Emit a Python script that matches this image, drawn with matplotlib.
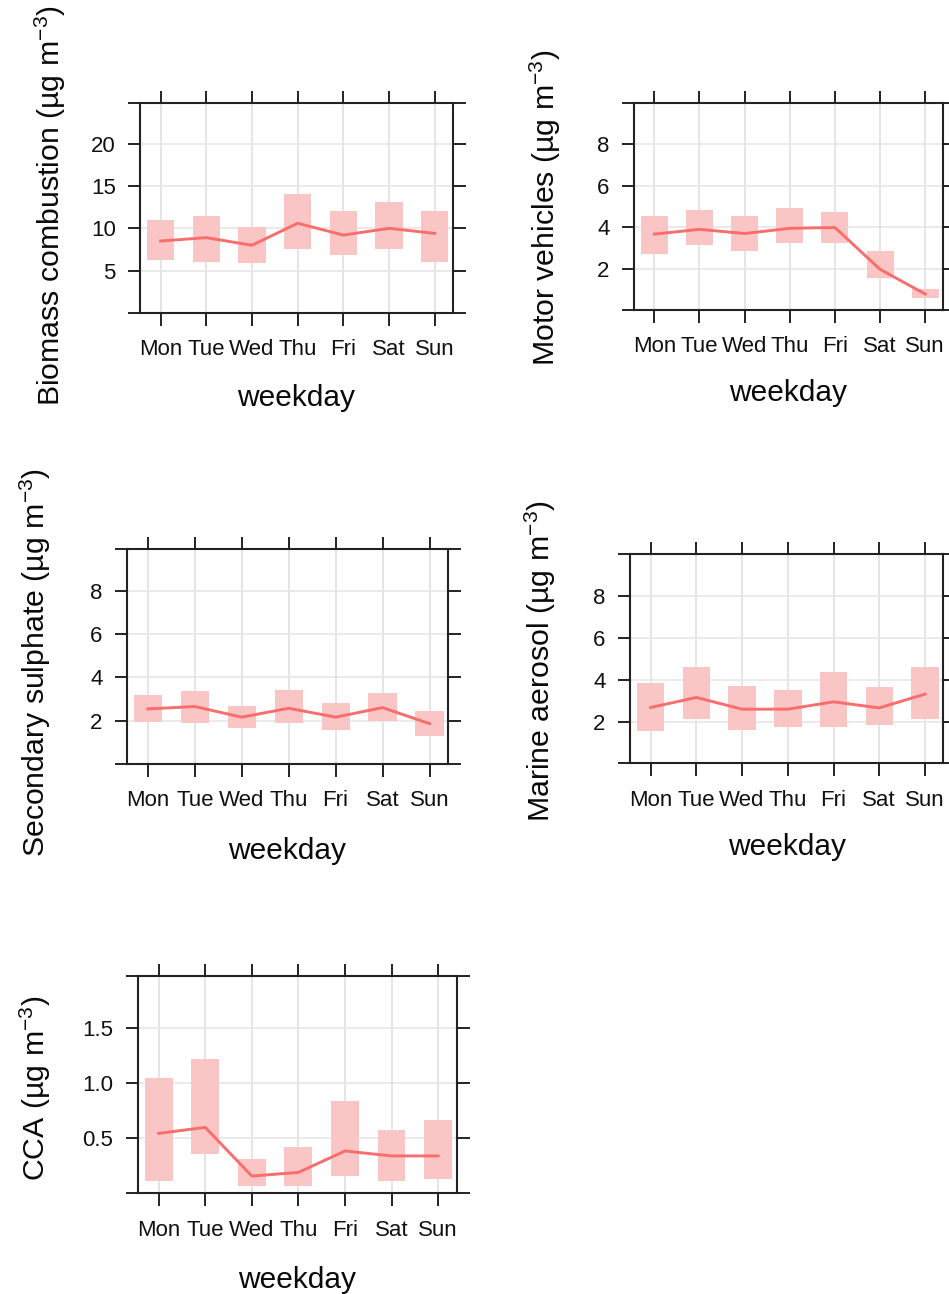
import numpy as np
import matplotlib
matplotlib.use("Agg")
import matplotlib.pyplot as plt

plt.rcParams['font.family'] = ['Liberation Sans', 'DejaVu Sans']
plt.rcParams['mathtext.default'] = 'regular'

days = ['Mon', 'Tue', 'Wed', 'Thu', 'Fri', 'Sat', 'Sun']

# mean and interval (lower / upper) per weekday
biomass_mean = [8.5, 8.9, 8.0, 10.6, 9.2, 10.0, 9.4]
biomass_low = [6.3, 6.0, 5.9, 7.6, 6.8, 7.6, 6.0]
biomass_high = [11.0, 11.4, 10.1, 14.0, 12.1, 13.1, 12.1]

motor_mean = [3.66, 3.89, 3.69, 3.94, 3.98, 1.96, 0.77]
motor_low = [2.68, 3.13, 2.84, 3.21, 3.21, 1.54, 0.59]
motor_high = [4.53, 4.82, 4.53, 4.90, 4.74, 2.86, 1.00]

sulph_mean = [2.54, 2.65, 2.16, 2.57, 2.16, 2.60, 1.86]
sulph_low = [1.95, 1.87, 1.66, 1.87, 1.58, 2.00, 1.28]
sulph_high = [3.18, 3.35, 2.66, 3.41, 2.82, 3.27, 2.45]

marine_mean = [2.67, 3.15, 2.59, 2.59, 2.94, 2.65, 3.31]
marine_low = [1.55, 2.14, 1.61, 1.76, 1.76, 1.84, 2.14]
marine_high = [3.85, 4.61, 3.71, 3.49, 4.38, 3.63, 4.61]

cca_mean = [0.545, 0.60, 0.157, 0.19, 0.385, 0.34, 0.34]
cca_low = [0.115, 0.355, 0.066, 0.066, 0.157, 0.115, 0.127]
cca_high = [1.045, 1.22, 0.315, 0.418, 0.836, 0.58, 0.67]

W, H = 949, 1294
LINE = '#F96D6D'
BOX = '#F9C5C5'
FRAME = '#222222'

fig = plt.figure(figsize=(W / 100, H / 100), dpi=100)


def px(x, y):
    return x / W, 1 - y / H


def panel(box, label, mean, low, high, ylim, yticks, ylab_xy, xlab_xy, fmt='{:g}'):
    l, t, r, b = box
    ax = fig.add_axes([l / W, 1 - b / H, (r - l) / W, (b - t) / H])
    x = np.arange(1, len(days) + 1)
    ax.set_xlim(0.55, 7.4)
    ax.set_ylim(*ylim)

    for xi in x:
        ax.axvline(xi, color='#e3e3e3', lw=1.3, zorder=0)
    for yt in yticks:
        ax.axhline(yt, color='#e8e8e8', lw=1.3, zorder=0)

    low = np.array(low)
    high = np.array(high)
    ax.bar(x, high - low, bottom=low, width=0.6, color=BOX, lw=0, zorder=1)
    ax.plot(x, mean, color=LINE, lw=2.1, zorder=2)

    ax.set_xticks(x)
    ax.set_xticklabels(days)
    ax.set_yticks(yticks)
    ax.set_yticklabels([fmt.format(v) for v in yticks])
    # ticks at the limits give the extended top/bottom frame lines
    ax.set_yticks(list(ylim), minor=True)
    ax.tick_params(axis='both', which='both', direction='out', length=9, width=1.4,
                   color=FRAME, top=True, right=True, labelsize=16, labelcolor='#111111')
    ax.tick_params(axis='x', pad=10)
    ax.tick_params(axis='y', pad=8.5)
    for s in ax.spines.values():
        s.set_linewidth(1.5)
        s.set_color(FRAME)

    fig.text(*px(*ylab_xy), label + ' (µg m$^{-3}$)', rotation=90, ha='center', va='center',
             fontsize=21.8, color='#0a0a0a')
    fig.text(*px(*xlab_xy), 'weekday', ha='center', va='center', fontsize=21.5, color='#0a0a0a')
    return ax


panel((140, 103, 453, 313), 'Biomass combustion', biomass_mean, biomass_low, biomass_high,
      (0, 24.8), [5, 10, 15, 20], (50, 206), (296, 398))
panel((634, 102.7, 943.3, 310), 'Motor vehicles', motor_mean, motor_low, motor_high,
      (0, 10), [2, 4, 6, 8], (545, 208), (788, 393))
panel((126.7, 549.3, 448.3, 764), 'Secondary sulphate', sulph_mean, sulph_low, sulph_high,
      (0, 9.9), [2, 4, 6, 8], (35, 662), (287, 851))
panel((630, 554.3, 943.3, 763.3), 'Marine aerosol', marine_mean, marine_low, marine_high,
      (0, 10), [2, 4, 6, 8], (540, 661), (787, 847))
panel((137.7, 975.7, 456.7, 1193.3), 'CCA', cca_mean, cca_low, cca_high,
      (0, 1.98), [0.5, 1.0, 1.5], (35, 1088), (297, 1280), fmt='{:.1f}')

fig.savefig('out.png', dpi=100)
